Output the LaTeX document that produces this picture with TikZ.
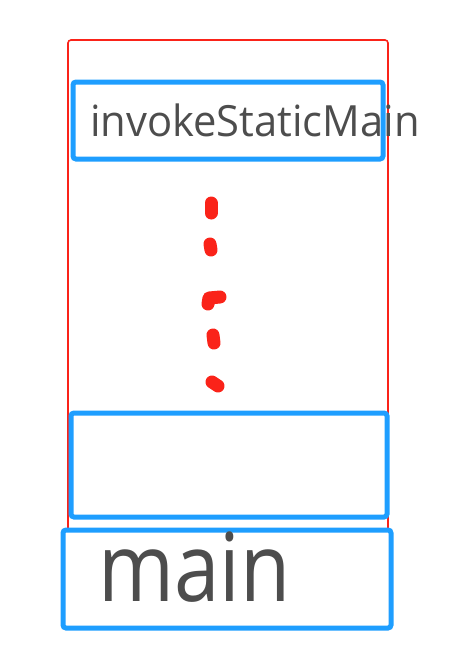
\documentclass[tikz,border=0pt]{standalone}
\usepackage{fontspec}
\setmainfont{Open Sans}
\definecolor{frame}{RGB}{250,35,25}
\definecolor{boxblue}{RGB}{30,158,255}
\definecolor{txt}{RGB}{77,77,77}
\begin{document}
\begin{tikzpicture}[x=1pt,y=-1pt,
  bluebox/.style={draw=boxblue,line width=5pt,rounded corners=3pt,inner sep=0pt},
  lbl/.style={text=txt,inner sep=0pt,anchor=base west},
  blob/.style={draw=frame,line width=13pt,line cap=round,line join=round}]
\useasboundingbox (0,0) rectangle (468,667);
\node[draw=frame,line width=1.6pt,rounded corners=3pt,inner sep=0pt,minimum width=320pt,minimum height=582pt] (frame) at (228,331) {};
\node[bluebox,minimum width=310pt,minimum height=77pt] (inv) at (228,120.5) {};
\node[bluebox,minimum width=316pt,minimum height=104pt] (mid) at (229,465) {};
\node[bluebox,minimum width=328pt,minimum height=98pt,fill=white] (main) at (227,579) {};
\node[lbl,font=\fontsize{43}{43}\selectfont,xscale=0.97] (invt) at (90,136) {invokeStaticMain};
\node[lbl,font=\fontsize{95}{95}\selectfont,xscale=0.86] (maint) at (98,601) {main};
\coordinate (d1a) at (211,203); \coordinate (d1b) at (211,213);
\coordinate (d2a) at (210,244); \coordinate (d2b) at (211,250);
\coordinate (d3a) at (208,304); \coordinate (d3b) at (209,298); \coordinate (d3c) at (220,297);
\coordinate (d4a) at (213,335); \coordinate (d4b) at (214,343);
\coordinate (d5a) at (212,382); \coordinate (d5b) at (218,386);
\draw[blob] (d1a) -- (d1b);
\draw[blob] (d2a) -- (d2b);
\draw[blob] (d3a) -- (d3b) -- (d3c);
\draw[blob] (d4a) -- (d4b);
\draw[blob] (d5a) -- (d5b);
\end{tikzpicture}
\end{document}
